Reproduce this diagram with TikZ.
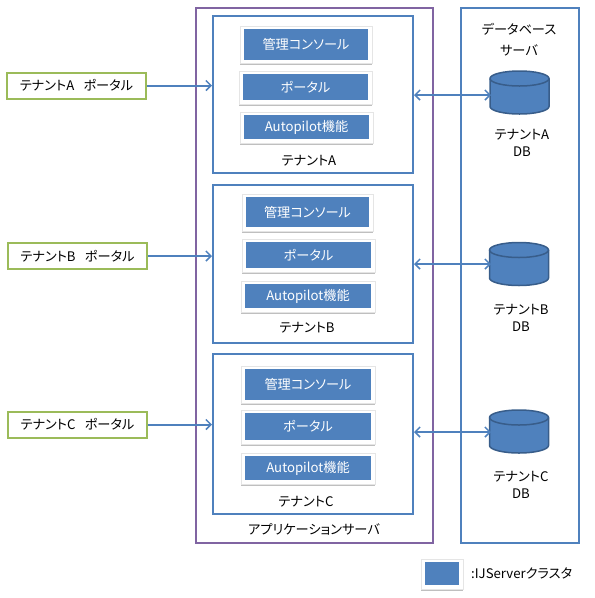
\documentclass[tikz,border=0pt]{standalone}
\usepackage{fontspec}
\setmainfont{Noto Sans CJK JP}[RawFeature=+palt]
\usetikzlibrary{arrows.meta, shadows}

\definecolor{tblue}{HTML}{4F81BD}
\definecolor{tbluedark}{HTML}{385D8A}
\definecolor{tpurple}{HTML}{8064A2}
\definecolor{tgreen}{HTML}{9BBB59}

\tikzset{
  serverbox/.style={draw=tpurple, line width=2pt, inner sep=0pt},
  tenantbox/.style={draw=tblue, line width=2pt, inner sep=0pt},
  portalbox/.style={draw=tgreen, line width=2pt, inner sep=0pt, minimum height=26pt},
  cardbox/.style={fill=white, draw=black!10, line width=0.5pt, inner sep=0pt, drop shadow={shadow xshift=0pt, shadow yshift=-1.5pt, opacity=0.5}},
  clusterbox/.style={fill=tblue, text=white, inner sep=0pt},
  dbline/.style={draw=tbluedark, line width=1.5pt},
  label/.style={inner sep=0pt},
  link/.style={draw=tblue, line width=2pt, -{Straight Barb[length=5pt, width=10pt, line width=1.5pt]}},
  biglink/.style={draw=tblue, line width=2pt, {Straight Barb[length=5pt, width=10pt, line width=1.5pt]}-{Straight Barb[length=5pt, width=10pt, line width=1.5pt]}},
  dbcylinder/.pic={
    \path[dbline, fill=tblue] (-29.5,-14) -- (-29.5,14)
      arc[start angle=180, end angle=360, x radius=29.5pt, y radius=7.5pt] -- (29.5,-14)
      arc[start angle=0, end angle=180, x radius=29.5pt, y radius=7.5pt] -- cycle;
    \path[dbline] (-29.5,-14) arc[start angle=180, end angle=360, x radius=29.5pt, y radius=7.5pt];
  }
}

\begin{document}
\begin{tikzpicture}[x=1pt, y=-1pt, font=\fontsize{13.2}{15}\selectfont]
  \useasboundingbox (0,0) rectangle (595,598);

  % Application server and database server frames
  \node[serverbox, minimum width=237pt, minimum height=535pt] (appserver) at (314.5,275.5) {};
  \node[tenantbox, minimum width=118pt, minimum height=535pt] (dbserver) at (520,275.5) {};
  \node[label] (appserverlabel) at (314,529) {アプリケーションサーバ};
  \node[label] (dbserverlabel1) at (519,29) {データベース};
  \node[label] (dbserverlabel2) at (519,50) {サーバ};

  % Tenant A
  \node[tenantbox, minimum width=200pt, minimum height=157pt] (tenantA) at (313,94.5) {};
  \node[cardbox, minimum width=132pt, minimum height=37pt] (cardmgmtA) at (306,44.5) {};
  \node[clusterbox, minimum width=124pt, minimum height=31pt] (mgmtA) at (306,44.5) {管理コンソール};
  \node[cardbox, minimum width=133pt, minimum height=33pt] (cardportalA) at (305.5,87.5) {};
  \node[clusterbox, minimum width=125pt, minimum height=26pt] (portalinA) at (305.5,87) {ポータル};
  \node[cardbox, minimum width=133pt, minimum height=31pt] (cardautoA) at (306.5,127.5) {};
  \node[clusterbox, minimum width=125pt, minimum height=24pt] (autoA) at (306.5,127) {Autopilot機能};
  \node[label] (tenantlabelA) at (309,161) {テナントA};

  % Tenant B
  \node[tenantbox, minimum width=200pt, minimum height=158pt] (tenantB) at (313,264) {};
  \node[cardbox, minimum width=131pt, minimum height=37pt] (cardmgmtB) at (307.5,212.5) {};
  \node[clusterbox, minimum width=123pt, minimum height=30pt] (mgmtB) at (307.5,212) {管理コンソール};
  \node[cardbox, minimum width=133pt, minimum height=33pt] (cardportalB) at (308.5,255.5) {};
  \node[clusterbox, minimum width=125pt, minimum height=26pt] (portalinB) at (308.5,255) {ポータル};
  \node[cardbox, minimum width=134pt, minimum height=31pt] (cardautoB) at (308,296.5) {};
  \node[clusterbox, minimum width=126pt, minimum height=24pt] (autoB) at (308,296) {Autopilot機能};
  \node[label] (tenantlabelB) at (307,328) {テナントB};

  % Tenant C
  \node[tenantbox, minimum width=200pt, minimum height=160pt] (tenantC) at (313,434) {};
  \node[cardbox, minimum width=134pt, minimum height=37pt] (cardmgmtC) at (308,385) {};
  \node[clusterbox, minimum width=126pt, minimum height=31pt] (mgmtC) at (308,384.5) {管理コンソール};
  \node[cardbox, minimum width=134pt, minimum height=34pt] (cardportalC) at (308,427) {};
  \node[clusterbox, minimum width=126pt, minimum height=27pt] (portalinC) at (308,426.5) {ポータル};
  \node[cardbox, minimum width=134pt, minimum height=31pt] (cardautoC) at (308,468.5) {};
  \node[clusterbox, minimum width=126pt, minimum height=24pt] (autoC) at (308,468) {Autopilot機能};
  \node[label] (tenantlabelC) at (306,502) {テナントC};

  % Tenant portals on the left
  \node[portalbox, minimum width=139pt] (portalA) at (76.5,85.5) {テナントA\hspace{.7em}ポータル};
  \node[portalbox, minimum width=139pt] (portalB) at (77.5,256) {テナントB\hspace{.7em}ポータル};
  \node[portalbox, minimum width=139pt] (portalC) at (77.5,424.5) {テナントC\hspace{.7em}ポータル};

  % Databases
  \pic (dbA) at (519.5,92.5) {dbcylinder};
  \pic (dbB) at (519,264) {dbcylinder};
  \pic (dbC) at (519,431.5) {dbcylinder};
  \node[label, align=center] (dblabelA) at (522,142.5) {テナントA\\[2pt]DB};
  \node[label, align=center] (dblabelB) at (521,317.5) {テナントB\\[2pt]DB};
  \node[label, align=center] (dblabelC) at (521,484.5) {テナントC\\[2pt]DB};

  % Ends of the links on the databases
  \coordinate (linkA) at (491,95);
  \coordinate (linkB) at (491,264);
  \coordinate (linkC) at (491,432);

  % Links
  \draw[link] (portalA.east) -- (portalA.east -| tenantA.west);
  \draw[link] (portalB.east) -- (portalB.east -| tenantB.west);
  \draw[link] (portalC.east) -- (portalC.east -| tenantC.west);
  \draw[biglink] (linkA -| tenantA.east) -- (linkA);
  \draw[biglink] (linkB -| tenantB.east) -- (linkB);
  \draw[biglink] (linkC -| tenantC.east) -- (linkC);

  % Legend
  \node[cardbox, minimum width=42pt, minimum height=30pt] (cardlegend) at (442,574) {};
  \node[clusterbox, minimum width=34pt, minimum height=23pt] (legend) at (442,573.5) {};
  \node[label, anchor=west] (legendlabel) at (471,573) {:IJServerクラスタ};
\end{tikzpicture}
\end{document}
